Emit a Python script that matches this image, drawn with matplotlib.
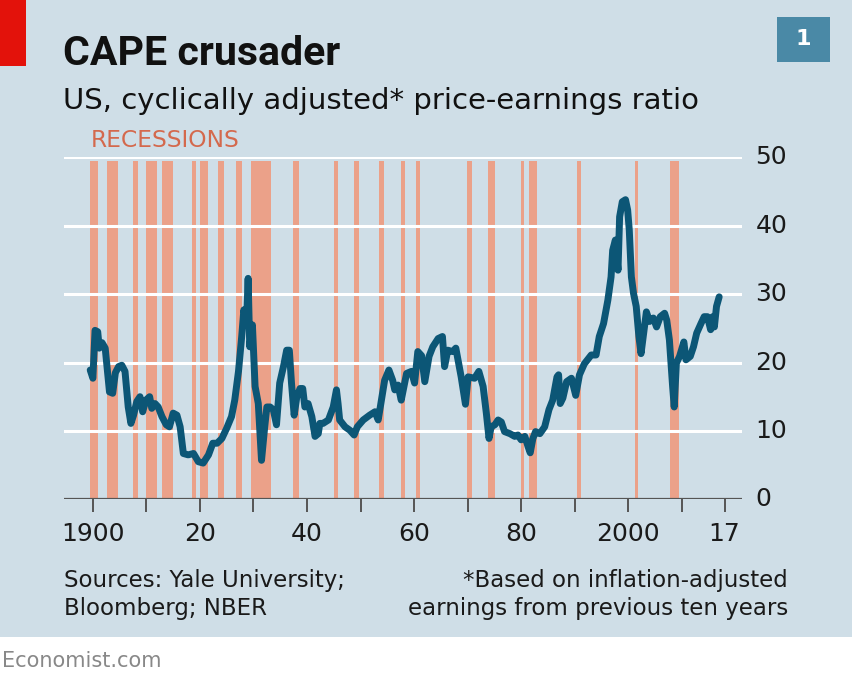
import matplotlib
matplotlib.use('Agg')
import matplotlib.pyplot as plt
from matplotlib.patches import Rectangle

# CAPE ratio (decimal year, ratio)
years = [1899.5, 1900.0, 1900.4, 1900.9, 1901.2, 1901.7, 1902.3, 1902.7, 1903.1, 1903.7,
         1904.2, 1904.8, 1905.4, 1906.0, 1906.6, 1907.1, 1907.6, 1908.2, 1908.8, 1909.3,
         1909.9, 1910.6, 1911.0, 1911.6, 1912.2, 1912.9, 1913.7, 1914.3, 1915.0, 1915.7,
         1916.3, 1916.9, 1917.8, 1918.8, 1919.7, 1920.6, 1921.6, 1922.4, 1923.2, 1924.1,
         1925.0, 1925.9, 1926.5, 1927.2, 1927.8, 1928.2, 1928.7, 1929.0, 1929.3, 1929.8,
         1930.3, 1930.9, 1931.5, 1932.1, 1932.5, 1933.1, 1933.7, 1934.3, 1934.9, 1935.6,
         1936.2, 1936.7, 1937.1, 1937.6, 1938.1, 1938.7, 1939.2, 1939.6, 1940.2, 1940.9,
         1941.5, 1942.1, 1942.4, 1943.0, 1944.0, 1944.9, 1945.5, 1945.8, 1946.1, 1947.1,
         1948.0, 1948.8, 1949.4, 1950.5, 1951.7, 1952.7, 1953.3, 1953.9, 1954.5, 1955.3,
         1956.0, 1956.4, 1957.0, 1957.6, 1958.6, 1959.5, 1960.1, 1960.7, 1961.4, 1962.0,
         1962.8, 1963.5, 1964.5, 1965.3, 1965.7, 1966.3, 1967.2, 1967.8, 1968.2, 1968.8,
         1969.6, 1970.1, 1971.3, 1972.1, 1972.9, 1973.5, 1974.0, 1974.4, 1975.1, 1975.7,
         1976.3, 1976.9, 1977.9, 1978.8, 1979.4, 1980.0, 1980.7, 1981.3, 1981.7, 1982.2,
         1982.7, 1983.5, 1984.4, 1985.2, 1985.9, 1986.7, 1987.0, 1987.3, 1987.8, 1988.5,
         1989.4, 1990.2, 1990.9, 1991.8, 1993.1, 1994.0, 1994.6, 1995.4, 1996.2, 1996.8,
         1997.1, 1997.6, 1998.1, 1998.4, 1998.9, 1999.5, 1999.9, 2000.2, 2000.6, 2001.0,
         2001.5, 2002.0, 2002.4, 2002.9, 2003.4, 2004.0, 2004.7, 2005.3, 2006.0, 2006.8,
         2007.2, 2007.7, 2008.3, 2008.6, 2009.0, 2009.6, 2010.4, 2010.8, 2011.6, 2012.2,
         2012.8, 2013.6, 2014.2, 2014.8, 2015.4, 2015.8, 2016.1, 2016.5, 2017.0]
cape = [18.9, 17.7, 24.7, 24.5, 22.1, 22.9, 22.1, 18.9, 15.7, 15.5,
        18.5, 19.4, 19.6, 18.7, 13.5, 11.1, 12.3, 14.3, 15.0, 12.8,
        14.5, 15.0, 13.3, 14.0, 13.5, 12.1, 10.9, 10.6, 12.6, 12.3,
        10.6, 6.7, 6.5, 6.7, 5.5, 5.3, 6.5, 8.2, 8.2, 8.9,
        10.4, 12.1, 14.5, 18.7, 23.8, 27.7, 25.7, 32.3, 22.3, 25.5,
        16.5, 14.0, 5.7, 10.6, 13.5, 13.5, 13.1, 10.9, 17.0, 19.4,
        21.8, 21.8, 17.0, 12.3, 15.0, 16.2, 16.2, 13.5, 14.0, 12.1,
        9.2, 9.6, 11.1, 11.1, 11.6, 13.5, 16.0, 14.0, 11.6, 10.6,
        10.1, 9.4, 10.6, 11.6, 12.3, 12.8, 11.6, 14.5, 17.4, 18.9,
        17.4, 16.0, 16.7, 14.5, 18.4, 18.7, 17.0, 21.6, 21.0, 17.2,
        20.9, 22.3, 23.5, 23.8, 19.4, 21.8, 21.6, 22.1, 20.4, 17.9,
        13.9, 17.9, 17.7, 18.7, 16.5, 12.6, 8.9, 10.6, 10.9, 11.6,
        11.3, 9.9, 9.6, 9.2, 9.4, 8.7, 9.2, 7.7, 6.8, 8.9,
        9.9, 9.6, 10.6, 13.1, 14.5, 17.9, 18.2, 14.0, 14.8, 17.2,
        17.7, 15.2, 18.2, 19.8, 21.1, 21.1, 23.8, 25.7, 29.1, 32.5,
        36.4, 37.9, 33.5, 41.3, 43.5, 43.8, 42.3, 39.4, 32.5, 30.1,
        28.2, 23.8, 21.3, 24.3, 27.4, 26.0, 26.5, 25.2, 26.7, 27.2,
        26.2, 23.3, 16.5, 13.5, 19.9, 20.9, 23.0, 20.4, 20.9, 22.3,
        24.3, 25.7, 26.7, 26.7, 24.8, 26.7, 25.2, 28.2, 29.6]

# NBER recessions (start, end) as decimal years
rec_start = [1899.5, 1902.7, 1907.4, 1910.0, 1913.0, 1918.6, 1920.0, 1923.4, 1926.8,
             1929.6, 1937.4, 1945.1, 1948.8, 1953.5, 1957.6, 1960.3, 1969.9, 1973.8,
             1980.0, 1981.5, 1990.5, 2001.2, 2007.9]
rec_end = [1900.9, 1904.6, 1908.5, 1912.0, 1914.9, 1919.2, 1921.5, 1924.5, 1927.9,
           1933.2, 1938.5, 1945.8, 1949.8, 1954.4, 1958.3, 1961.1, 1970.9, 1975.2,
           1980.5, 1982.9, 1991.2, 2001.9, 2009.5]

tick_years = [1900, 1910, 1920, 1930, 1940, 1950, 1960, 1970, 1980, 1990, 2000, 2010, 2018]
tick_labels = ['1900', '', '20', '', '40', '', '60', '', '80', '', '2000', '', '17']
y_ticks = [0, 10, 20, 30, 40, 50]

bg = '#cfdee7'
line_col = '#0c5676'
rec_col = '#eba189'
body = 'DejaVu Sans'

fig = plt.figure(figsize=(8.52, 6.8), dpi=100)
fig.patch.set_facecolor('white')
# blue panel behind the whole chart, white strip at the bottom
fig.patches.append(Rectangle((0, 0.0632), 1, 0.9368, transform=fig.transFigure,
                             facecolor=bg, edgecolor='none', zorder=-10))
# red tag top left and the chart number box
fig.patches.append(Rectangle((0, 0.903), 0.031, 0.097, transform=fig.transFigure,
                             facecolor='#e3120b', edgecolor='none', zorder=-5))
fig.patches.append(Rectangle((0.912, 0.909), 0.062, 0.066, transform=fig.transFigure,
                             facecolor='#4a89a6', edgecolor='none', zorder=-5))
fig.text(0.943, 0.942, '1', color='white', fontsize=16, fontweight='bold',
         family=body, ha='center', va='center')

ax = fig.add_axes([0.0751, 0.2657, 0.7954, 0.5030])
ax.set_facecolor('none')

for s, e in zip(rec_start, rec_end):
    ax.axvspan(s, e, ymin=0, ymax=0.99, color=rec_col, lw=0, zorder=1)

for v in y_ticks[1:]:
    ax.axhline(v, color='white', lw=2.2, zorder=2)
ax.axhline(0, color='#555555', lw=1.6, zorder=3)

ax.plot(years, cape, color=line_col, lw=5, solid_joinstyle='round',
        solid_capstyle='round', zorder=4)

ax.set_xlim(1894.6, 2021.2)
ax.set_ylim(0, 50)
for side in ['top', 'right', 'left', 'bottom']:
    ax.spines[side].set_visible(False)

ax.set_xticks(tick_years)
ax.set_xticklabels(tick_labels)
ax.tick_params(axis='x', direction='out', length=9, width=1.4, color='#555555',
               pad=7, labelsize=18, labelcolor='#1a1a1a')
ax.yaxis.tick_right()
ax.set_yticks(y_ticks)
ax.tick_params(axis='y', length=0, pad=10, labelsize=18, labelcolor='#1a1a1a')
for lab in ax.get_yticklabels():
    lab.set_horizontalalignment('left')
    lab.set_verticalalignment('center')

# titles
fig.text(0.074, 0.904, 'CAPE crusader', fontsize=29.5, fontweight='bold',
         family='Roboto', color='#111111', va='baseline')
fig.text(0.074, 0.8397, 'US, cyclically adjusted* price-earnings ratio', fontsize=21,
         family=body, color='#111111', va='baseline')
fig.text(0.107, 0.7838, 'RECESSIONS', fontsize=16.8, family=body, color='#d4694d',
         va='baseline')

# footnotes
fig.text(0.075, 0.0956, 'Sources: Yale University;\nBloomberg; NBER', fontsize=16.5,
         family=body, color='#1a1a1a', va='baseline', linespacing=1.25)
fig.text(0.925, 0.0956, '*Based on inflation-adjusted\nearnings from previous ten years',
         fontsize=16.5, family=body, color='#1a1a1a', va='baseline', ha='right',
         multialignment='right', linespacing=1.25)
fig.text(0.002, 0.019, 'Economist.com', fontsize=15, family=body, color='#888888',
         va='baseline')

plt.savefig('out.png', dpi=100, facecolor=fig.get_facecolor())
